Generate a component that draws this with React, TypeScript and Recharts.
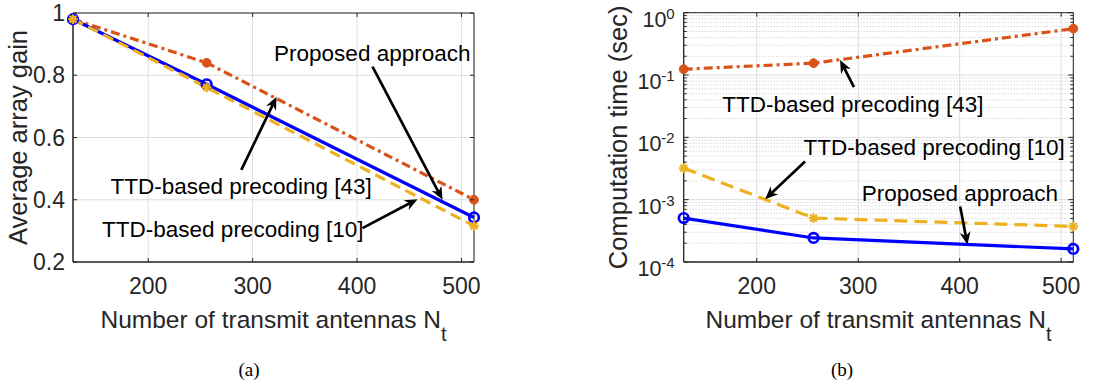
import React from 'react';
import {
  LineChart,
  Line,
  XAxis,
  YAxis,
  CartesianGrid,
  ReferenceLine,
  ReferenceDot,
  ReferenceArea,
} from 'recharts';

// ---------- data ----------
const antennas = [128, 256, 512];

const gainProposed = [0.98, 0.771, 0.343];
const gainTTD43 = [0.98, 0.84, 0.4];
const gainTTD10 = [0.98, 0.761, 0.316];

const timeProposed = [5.07e-4, 2.43e-4, 1.62e-4];
const timeTTD43 = [0.124, 0.155, 0.554];
const timeTTD10 = [3.2e-3, 5.07e-4, 3.72e-4];

const xTicks = [200, 300, 400, 500];
const gainTicks = [0.2, 0.4, 0.6, 0.8, 1];
const timeTicks = [1e-4, 1e-3, 1e-2, 1e-1, 1];
const timeMinorMultipliers = [2, 3, 4, 5, 6, 7, 8, 9];
const timeDecades = [1e-4, 1e-3, 1e-2, 1e-1];

const gainNotes = [
  { text: 'Proposed approach', x: 414.6, y: 0.871, from: [414.8, 0.828], to: [481.9, 0.4] },
  { text: 'TTD-based precoding [43]', x: 289, y: 0.443, from: [289.2, 0.496], to: [323, 0.731] },
  { text: 'TTD-based precoding [10]', x: 281, y: 0.306, from: [405.2, 0.309], to: [458, 0.402] },
];

const timeNotes = [
  { text: 'TTD-based precoding [43]', x: 294.8, y: 0.0344, from: [295.8, 0.0637], to: [282.1, 0.1746] },
  { text: 'TTD-based precoding [10]', x: 374.8, y: 6.87e-3, from: [247.6, 4.09e-3], to: [208.2, 1.02e-3] },
  { text: 'Proposed approach', x: 400.2, y: 1.276e-3, from: [400.5, 7.78e-4], to: [407.7, 1.89e-4] },
];

// ---------- styles ----------
const BLUE = '#0000FF';
const RED = '#D95319';
const YEL = '#EDB120';
const AXIS = '#262626';
const GRID = '#dedede';
const FONT = '"Liberation Sans", Arial, Helvetica, sans-serif';

const gainData = antennas.map((n, i) => ({
  n,
  proposed: gainProposed[i],
  ttd43: gainTTD43[i],
  ttd10: gainTTD10[i],
}));
const timeData = antennas.map((n, i) => ({
  n,
  proposed: timeProposed[i],
  ttd43: timeTTD43[i],
  ttd10: timeTTD10[i],
}));
const timeMinor: number[] = [];
timeDecades.forEach((d) => timeMinorMultipliers.forEach((m) => timeMinor.push(d * m)));

// ---------- layout ----------
const W = 560;
const H = 388;
const L = { top: 13, right: 86, left: 13, bottom: 86, yw: 60, xh: 40 };
const R = { top: 12.7, right: 46.7, left: 63.7, bottom: 86, yw: 60, xh: 40 };
const plotTop = (m: typeof L) => m.top;
const plotRight = (m: typeof L) => W - m.right;

// ---------- marks ----------
const OpenCircle = (p: any) => {
  if (p.cx == null) return null;
  return <circle cx={p.cx} cy={p.cy} r={4.8} fill="none" stroke={BLUE} strokeWidth={2.7} />;
};
const FilledCircle = (p: any) => {
  if (p.cx == null) return null;
  return <circle cx={p.cx} cy={p.cy} r={4.4} fill={RED} stroke={RED} strokeWidth={1} />;
};
const Asterisk = (p: any) => {
  if (p.cx == null) return null;
  const { cx, cy } = p;
  const s = 4.8;
  const d = s * 0.707;
  return (
    <g stroke={YEL} strokeWidth={2.2}>
      <line x1={cx - s} y1={cy} x2={cx + s} y2={cy} />
      <line x1={cx} y1={cy - s} x2={cx} y2={cy + s} />
      <line x1={cx - d} y1={cy - d} x2={cx + d} y2={cy + d} />
      <line x1={cx - d} y1={cy + d} x2={cx + d} y2={cy - d} />
    </g>
  );
};

const arrowShape = (p: any) => {
  const { x1, y1, x2, y2 } = p;
  if (x1 == null) return null;
  const dx = x2 - x1;
  const dy = y2 - y1;
  const len = Math.hypot(dx, dy) || 1;
  const ux = dx / len;
  const uy = dy / len;
  const hl = 13;
  const hw = 5.5;
  const notch = 4;
  const bx = x2 - ux * hl;
  const by = y2 - uy * hl;
  const nx = -uy;
  const ny = ux;
  const mx = x2 - ux * (hl - notch);
  const my = y2 - uy * (hl - notch);
  const pts = [
    [x2, y2],
    [bx + nx * hw, by + ny * hw],
    [mx, my],
    [bx - nx * hw, by - ny * hw],
  ]
    .map((q) => q.join(','))
    .join(' ');
  return (
    <g>
      <line x1={x1} y1={y1} x2={mx} y2={my} stroke="#000" strokeWidth={2.7} />
      <polygon points={pts} fill="#000" />
    </g>
  );
};

const noteText = (text: string) => (p: any) => {
  if (p.cx == null) return null;
  return (
    <text x={p.cx} y={p.cy} dy="0.35em" textAnchor="middle" fontSize={22.5} fill="#000" fontFamily={FONT}>
      {text}
    </text>
  );
};

// ---------- ticks ----------
const makeXTick = (m: typeof L) => (p: any) => {
  const { x, y, payload } = p;
  const base = y - 16;
  const top = plotTop(m);
  return (
    <g>
      <line x1={x} y1={base} x2={x} y2={base - 4} stroke={AXIS} />
      <line x1={x} y1={top} x2={x} y2={top + 4} stroke={AXIS} />
      <text x={x} y={y} dy="0.71em" textAnchor="middle" fontSize={23} fill={AXIS} fontFamily={FONT}>
        {payload.value}
      </text>
    </g>
  );
};

const GainYTick = (p: any) => {
  const { x, y, payload } = p;
  const left = x + 8;
  const right = plotRight(L);
  const v = payload.value;
  return (
    <g>
      <line x1={left} y1={y} x2={left + 4} y2={y} stroke={AXIS} />
      <line x1={right} y1={y} x2={right - 4} y2={y} stroke={AXIS} />
      <text x={x} y={y} dy="0.35em" textAnchor="end" fontSize={23} fill={AXIS} fontFamily={FONT}>
        {v === 1 ? '1' : v.toFixed(1)}
      </text>
    </g>
  );
};

const TimeYTick = (p: any) => {
  const { x, y, payload } = p;
  const left = x + 9;
  const right = plotRight(R);
  const exp = Math.round(Math.log10(payload.value));
  return (
    <g>
      <line x1={left} y1={y} x2={left + 5} y2={y} stroke={AXIS} />
      <line x1={right} y1={y} x2={right - 5} y2={y} stroke={AXIS} />
      <text x={x} y={y + 14} textAnchor="end" fontSize={21.5} fill={AXIS} fontFamily={FONT}>
        10
        <tspan dy={-8} fontSize={15}>
          {String(exp)}
        </tspan>
      </text>
    </g>
  );
};

const minorShape = (p: any) => {
  const { x1, y1, x2, y2 } = p;
  if (x1 == null) return null;
  return (
    <g>
      <line x1={x1} y1={y1} x2={x2} y2={y2} stroke="#c8c8c8" strokeWidth={1} strokeDasharray="1 2" />
      <line x1={x1} y1={y1} x2={x1 + 3} y2={y1} stroke={AXIS} />
      <line x1={x2} y1={y2} x2={x2 - 3} y2={y2} stroke={AXIS} />
    </g>
  );
};

// ---------- labels ----------
const xLabel = (p: any) => {
  const vb = p.viewBox || {};
  const cx = vb.x + vb.width / 2;
  const by = vb.y + 66;
  return (
    <text x={cx} y={by} textAnchor="middle" fontSize={24.5} fill={AXIS} fontFamily={FONT}>
      Number of transmit antennas N
      <tspan dy={13} fontSize={20}>
        t
      </tspan>
    </text>
  );
};

const yLabel = (text: string, bx: number) => (p: any) => {
  const vb = p.viewBox || {};
  const cy = vb.y + vb.height / 2;
  return (
    <text
      x={bx}
      y={cy}
      textAnchor="middle"
      fontSize={25.5}
      fill={AXIS}
      fontFamily={FONT}
      transform={`rotate(-90 ${bx} ${cy})`}
    >
      {text}
    </text>
  );
};

const lineBase = { isAnimationActive: false, strokeWidth: 3.2, activeDot: false as const };

function GainChart() {
  return (
    <LineChart
      width={W}
      height={H}
      data={gainData}
      margin={{ top: L.top, right: L.right, left: L.left, bottom: L.bottom }}
      style={{ fontFamily: FONT }}
    >
      <CartesianGrid stroke={GRID} strokeWidth={1} />
      <XAxis
        dataKey="n"
        type="number"
        domain={[128, 512]}
        ticks={xTicks}
        height={L.xh}
        tickSize={0}
        tickMargin={16}
        tick={makeXTick(L)}
        axisLine={{ stroke: AXIS }}
        label={xLabel}
      />
      <YAxis
        type="number"
        domain={[0.2, 1]}
        ticks={gainTicks}
        width={L.yw}
        tickSize={0}
        tickMargin={8}
        tick={GainYTick}
        axisLine={{ stroke: AXIS }}
        label={yLabel('Average array gain', 27)}
      />
      <ReferenceArea x1={128} x2={512} y1={0.2} y2={1} fill="none" stroke={AXIS} strokeWidth={1} />
      <Line dataKey="ttd43" stroke={RED} strokeDasharray="9 4 3 4" dot={FilledCircle} {...lineBase} />
      <Line dataKey="proposed" stroke={BLUE} dot={OpenCircle} {...lineBase} />
      <Line dataKey="ttd10" stroke={YEL} strokeDasharray="11 6" dot={Asterisk} {...lineBase} />
      {gainNotes.map((n, i) => (
        <ReferenceLine
          key={'ga' + i}
          segment={[
            { x: n.from[0], y: n.from[1] },
            { x: n.to[0], y: n.to[1] },
          ]}
          shape={arrowShape}
          ifOverflow="visible"
        />
      ))}
      {gainNotes.map((n, i) => (
        <ReferenceDot key={'gt' + i} x={n.x} y={n.y} r={1} shape={noteText(n.text)} ifOverflow="visible" />
      ))}
    </LineChart>
  );
}

function TimeChart() {
  return (
    <LineChart
      width={W}
      height={H}
      data={timeData}
      margin={{ top: R.top, right: R.right, left: R.left, bottom: R.bottom }}
      style={{ fontFamily: FONT }}
    >
      <CartesianGrid stroke={GRID} strokeWidth={1} />
      <XAxis
        dataKey="n"
        type="number"
        domain={[128, 512]}
        ticks={xTicks}
        height={R.xh}
        tickSize={0}
        tickMargin={16}
        tick={makeXTick(R)}
        axisLine={{ stroke: AXIS }}
        label={xLabel}
      />
      <YAxis
        type="number"
        scale="log"
        domain={[1e-4, 1]}
        ticks={timeTicks}
        width={R.yw}
        tickSize={0}
        tickMargin={9}
        tick={TimeYTick}
        axisLine={{ stroke: AXIS }}
        label={yLabel('Computation time (sec)', 66.7)}
      />
      {timeMinor.map((v, i) => (
        <ReferenceLine key={'mn' + i} y={v} shape={minorShape} ifOverflow="visible" />
      ))}
      <ReferenceArea x1={128} x2={512} y1={1e-4} y2={1} fill="none" stroke={AXIS} strokeWidth={1} />
      <Line dataKey="ttd43" stroke={RED} strokeDasharray="9 4 3 4" dot={FilledCircle} {...lineBase} />
      <Line dataKey="proposed" stroke={BLUE} dot={OpenCircle} {...lineBase} />
      <Line dataKey="ttd10" stroke={YEL} strokeDasharray="13 7" dot={Asterisk} {...lineBase} />
      {timeNotes.map((n, i) => (
        <ReferenceLine
          key={'ta' + i}
          segment={[
            { x: n.from[0], y: n.from[1] },
            { x: n.to[0], y: n.to[1] },
          ]}
          shape={arrowShape}
          ifOverflow="visible"
        />
      ))}
      {timeNotes.map((n, i) => (
        <ReferenceDot key={'tt' + i} x={n.x} y={n.y} r={1} shape={noteText(n.text)} ifOverflow="visible" />
      ))}
    </LineChart>
  );
}

const captionStyle: React.CSSProperties = {
  position: 'absolute',
  top: 358,
  width: 60,
  textAlign: 'center',
  fontFamily: '"Liberation Serif", "Times New Roman", serif',
  fontSize: 19,
  lineHeight: '24px',
  color: '#000',
};

export default function App() {
  return (
    <div style={{ position: 'absolute', left: 0, top: 0, width: 1120, height: 388, background: '#fff' }}>
      <div style={{ position: 'absolute', left: 0, top: 0 }}>
        <GainChart />
      </div>
      <div style={{ position: 'absolute', left: 560, top: 0 }}>
        <TimeChart />
      </div>
      <div style={{ ...captionStyle, left: 249 - 30 }}>(a)</div>
      <div style={{ ...captionStyle, left: 842 - 30 }}>(b)</div>
    </div>
  );
}
